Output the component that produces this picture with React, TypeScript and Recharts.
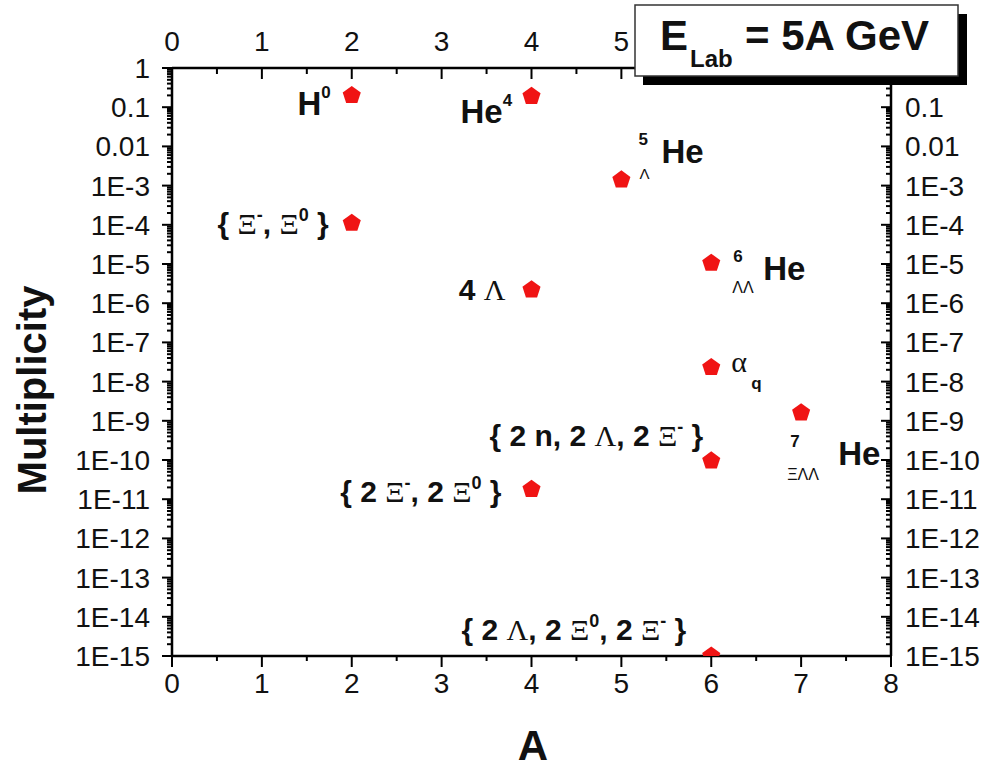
import React from 'react';
import { ScatterChart, Scatter, XAxis, YAxis } from 'recharts';

const SANS = '"Liberation Sans", Arial, Helvetica, sans-serif';
const SERIF = '"Liberation Serif", "Times New Roman", serif';
const INK = '#111';

// Mass number A of each produced object
const massNumbers = [2, 4, 5, 2, 6, 4, 6, 7, 6, 4, 6];
// Multiplicity per event at E_Lab = 5A GeV
const multiplicities = [0.2, 0.19, 1.4e-3, 1.1e-4, 1.05e-5, 2.2e-6, 2.3e-8, 1.6e-9, 9.5e-11, 1.8e-11, 1e-15];
// Which object each point stands for
const species = ['H0', 'He4', 'He5L', 'XiXi0', 'He6LL', 'L4', 'alphaQ', 'He7XiLL', 'n2L2Xi2', 'Xi2Xi02', 'L2Xi02Xi2'];

// Axis tick labels (the top and right scales lose the labels that sit under the energy box)
const xTickLabels = ['0', '1', '2', '3', '4', '5', '6', '7', '8'];
const topTickLabels = ['0', '1', '2', '3', '4', '5', '', '', ''];
const xMinorTicks = [0.5, 1.5, 2.5, 3.5, 4.5, 5.5, 6.5, 7.5];
const yTickLabels = ['1', '0.1', '0.01', '1E-3', '1E-4', '1E-5', '1E-6', '1E-7', '1E-8', '1E-9', '1E-10', '1E-11', '1E-12', '1E-13', '1E-14', '1E-15'];
const rightTickLabels = ['', '0.1', '0.01', '1E-3', '1E-4', '1E-5', '1E-6', '1E-7', '1E-8', '1E-9', '1E-10', '1E-11', '1E-12', '1E-13', '1E-14', '1E-15'];
const yMinorMultipliers = [2, 3, 4, 5, 6, 7, 8, 9];

const data = massNumbers.map((a, i) => ({ A: a, multiplicity: multiplicities[i], species: species[i] }));

const xMajorTicks = xTickLabels.map(Number);
const xTicks = [...xMajorTicks, ...xMinorTicks].sort((a, b) => a - b);
const yMajorTicks = yTickLabels.map((_, i) => Number(`1e-${i}`));
const yMinorTicks: number[] = [];
for (let e = 1; e < yTickLabels.length; e++) {
  for (const k of yMinorMultipliers) yMinorTicks.push(Number(`${k}e-${e}`));
}
const yTicks = [...yMajorTicks, ...yMinorTicks].sort((a, b) => a - b);

const isXMajor = (v: number) => Math.abs(v - Math.round(v)) < 1e-9;
const yDecade = (v: number) => Math.log10(v);
const isYMajor = (v: number) => Math.abs(yDecade(v) - Math.round(yDecade(v))) < 1e-6;
const yIndex = (v: number) => -Math.round(yDecade(v));

const TICK_FONT = 28;
const MAJOR = 10;
const MINOR = 5;
const MARK = { stroke: '#000', strokeWidth: 2, fill: 'none' };

// Tick components receive the position of the axis line itself
// (tickSize and tickMargin are zero) and draw both the mark and its label.
const LeftTick = (p: any) => {
  const x = Number(p.x);
  const y = Number(p.y);
  const v = Number(p.payload.value);
  const major = isYMajor(v);
  const len = major ? MAJOR : MINOR;
  return (
    <g>
      <path d={`M${x},${y}H${x - len}`} {...MARK} />
      {major && (
        <text x={x - 22} y={y} dy="0.36em" textAnchor="end" fontFamily={SANS} fontSize={TICK_FONT} fill={INK}>
          {yTickLabels[yIndex(v)]}
        </text>
      )}
    </g>
  );
};

const RightTick = (p: any) => {
  const x = Number(p.x);
  const y = Number(p.y);
  const v = Number(p.payload.value);
  const major = isYMajor(v);
  const len = major ? MAJOR : MINOR;
  const label = major ? rightTickLabels[yIndex(v)] : '';
  return (
    <g>
      <path d={`M${x},${y}H${x - len}`} {...MARK} />
      {label && (
        <text x={x + 14} y={y} dy="0.36em" textAnchor="start" fontFamily={SANS} fontSize={TICK_FONT} fill={INK}>
          {label}
        </text>
      )}
    </g>
  );
};

const BottomTick = (p: any) => {
  const x = Number(p.x);
  const y = Number(p.y);
  const v = Number(p.payload.value);
  const major = isXMajor(v);
  const len = major ? 11 : MINOR;
  return (
    <g>
      <path d={`M${x},${y}V${y + len}`} {...MARK} />
      {major && (
        <text x={x} y={y + 37} textAnchor="middle" fontFamily={SANS} fontSize={TICK_FONT} fill={INK}>
          {xTickLabels[Math.round(v)]}
        </text>
      )}
    </g>
  );
};

const TopTick = (p: any) => {
  const x = Number(p.x);
  const y = Number(p.y);
  const v = Number(p.payload.value);
  const major = isXMajor(v);
  const len = major ? 11 : 6;
  const label = major ? topTickLabels[Math.round(v)] : '';
  return (
    <g>
      <path d={`M${x},${y}V${y + len}`} {...MARK} />
      {label && (
        <text x={x} y={y - 17} textAnchor="middle" fontFamily={SANS} fontSize={TICK_FONT} fill={INK}>
          {label}
        </text>
      )}
    </g>
  );
};

type Seg = { t: string; greek?: boolean; sup?: boolean };

const RichText = ({ x, y, anchor, size, segs, raise = 13, supSize = 18 }: {
  x: number; y: number; anchor: 'start' | 'end' | 'middle'; size: number; segs: Seg[]; raise?: number; supSize?: number;
}) => {
  let up = false;
  return (
    <text x={x} y={y} textAnchor={anchor} fontFamily={SANS} fontWeight="bold" fontSize={size} fill={INK} style={{ whiteSpace: 'pre' }}>
      {segs.map((s, i) => {
        let dy = 0;
        if (s.sup && !up) { dy = -raise; up = true; }
        else if (!s.sup && up) { dy = raise; up = false; }
        return (
          <tspan
            key={i}
            dy={dy || undefined}
            fontSize={s.sup ? supSize : size}
            fontFamily={s.greek ? SERIF : SANS}
            fontWeight={s.greek ? 'normal' : 'bold'}
          >
            {s.t}
          </tspan>
        );
      })}
    </text>
  );
};

const Small = ({ x, y, size, bold, children }: { x: number; y: number; size: number; bold?: boolean; children: React.ReactNode }) => (
  <text x={x} y={y} fontFamily={SANS} fontWeight={bold ? 'bold' : 'normal'} fontSize={size} fill={INK}>
    {children}
  </text>
);

const pointLabel = (key: string, cx: number, cy: number) => {
  switch (key) {
    case 'H0':
      return <RichText x={cx - 21} y={cy + 20} anchor="end" size={33} raise={17} supSize={17} segs={[{ t: 'H' }, { t: '0', sup: true }]} />;
    case 'He4':
      return <RichText x={cx - 71} y={cy + 27} anchor="start" size={33} raise={17} supSize={17} segs={[{ t: 'He' }, { t: '4', sup: true }]} />;
    case 'He5L':
      return (
        <g>
          <Small x={cx + 17} y={cy - 35} size={17} bold>5</Small>
          <Small x={cx + 18} y={cy - 1} size={15}>Λ</Small>
          <Small x={cx + 40} y={cy - 17} size={33} bold>He</Small>
        </g>
      );
    case 'XiXi0':
      return (
        <RichText x={cx - 23} y={cy + 11} anchor="end" size={30}
          segs={[{ t: '{ ' }, { t: 'Ξ', greek: true }, { t: '-', sup: true }, { t: ', ' }, { t: 'Ξ', greek: true }, { t: '0', sup: true }, { t: ' }' }]} />
      );
    case 'He6LL':
      return (
        <g>
          <Small x={cx + 22} y={cy - 1} size={17} bold>6</Small>
          <Small x={cx + 21} y={cy + 30} size={16}>ΛΛ</Small>
          <Small x={cx + 52} y={cy + 17} size={33} bold>He</Small>
        </g>
      );
    case 'L4':
      return <RichText x={cx - 26} y={cy + 10} anchor="end" size={30} segs={[{ t: '4 ' }, { t: 'Λ', greek: true }]} />;
    case 'alphaQ':
      return (
        <g>
          <text x={cx + 20} y={cy + 5} fontFamily={SERIF} fontSize={30} fill={INK}>α</text>
          <Small x={cx + 40} y={cy + 22} size={17} bold>q</Small>
        </g>
      );
    case 'He7XiLL':
      return (
        <g>
          <Small x={cx - 11} y={cy + 34} size={17} bold>7</Small>
          <Small x={cx - 14} y={cy + 67} size={16}>ΞΛΛ</Small>
          <Small x={cx + 37} y={cy + 52} size={33} bold>He</Small>
        </g>
      );
    case 'n2L2Xi2':
      return (
        <RichText x={cx - 8} y={cy - 15} anchor="end" size={30}
          segs={[{ t: '{ 2 n, 2 ' }, { t: 'Λ', greek: true }, { t: ', 2 ' }, { t: 'Ξ', greek: true }, { t: '-', sup: true }, { t: ' }' }]} />
      );
    case 'Xi2Xi02':
      return (
        <RichText x={cx - 30} y={cy + 13} anchor="end" size={30}
          segs={[{ t: '{ 2 ' }, { t: 'Ξ', greek: true }, { t: '-', sup: true }, { t: ', 2 ' }, { t: 'Ξ', greek: true }, { t: '0', sup: true }, { t: ' }' }]} />
      );
    case 'L2Xi02Xi2':
      return (
        <RichText x={cx - 25} y={cy - 16} anchor="end" size={30}
          segs={[{ t: '{ 2 ' }, { t: 'Λ', greek: true }, { t: ', 2 ' }, { t: 'Ξ', greek: true }, { t: '0', sup: true }, { t: ', 2 ' }, { t: 'Ξ', greek: true }, { t: '-', sup: true }, { t: ' }' }]} />
      );
    default:
      return null;
  }
};

// Red pentagon marker with the object's name beside it
const ParticleMarker = (props: any) => {
  const { cx, cy, payload } = props;
  const r = 9.5;
  const pts = [0, 1, 2, 3, 4]
    .map((k) => {
      const a = -Math.PI / 2 + (k * 2 * Math.PI) / 5;
      return `${cx + r * Math.cos(a)},${cy + r * Math.sin(a)}`;
    })
    .join(' ');
  return (
    <g>
      <polygon points={pts} fill="#f01414" />
      {pointLabel(payload.species, cx, cy)}
    </g>
  );
};

const axisLine = { stroke: '#000', strokeWidth: 2.5 };
const abs = (left: number, top: number): React.CSSProperties => ({ position: 'absolute', left, top, pointerEvents: 'none' });

export default function App() {
  return (
    <div style={{ position: 'absolute', left: 0, top: 0, width: 1003, height: 768, background: '#fff' }}>
      <ScatterChart width={1003} height={768} margin={{ top: 18, right: 12, bottom: 52, left: 72 }}>
        <XAxis
          xAxisId="bottom" orientation="bottom" type="number" dataKey="A" domain={[0, 8]} allowDataOverflow
          ticks={xTicks} interval={0} tick={BottomTick} tickLine={false} tickSize={0} tickMargin={0}
          axisLine={axisLine} height={60}
        />
        <XAxis
          xAxisId="top" orientation="top" type="number" dataKey="A" domain={[0, 8]} allowDataOverflow
          ticks={xTicks} interval={0} tick={TopTick} tickLine={false} tickSize={0} tickMargin={0}
          axisLine={axisLine} height={50}
        />
        <YAxis
          yAxisId="left" orientation="left" type="number" dataKey="multiplicity" scale="log" domain={[1e-15, 1]} allowDataOverflow
          ticks={yTicks} interval={0} tick={LeftTick} tickLine={false} tickSize={0} tickMargin={0}
          axisLine={axisLine} width={100}
        />
        <YAxis
          yAxisId="right" orientation="right" type="number" dataKey="multiplicity" scale="log" domain={[1e-15, 1]} allowDataOverflow
          ticks={yTicks} interval={0} tick={RightTick} tickLine={false} tickSize={0} tickMargin={0}
          axisLine={axisLine} width={100}
        />
        <Scatter
          data={data} xAxisId="bottom" yAxisId="left" dataKey="multiplicity"
          shape={ParticleMarker} isAnimationActive={false}
        />
      </ScatterChart>

      {/* axis titles */}
      <svg width={70} height={290} style={abs(0, 245)}>
        <text transform="translate(46, 145) rotate(-90)" textAnchor="middle" fontFamily={SANS} fontWeight="bold" fontSize={40} fill={INK}>
          Multiplicity
        </text>
      </svg>
      <svg width={70} height={48} style={abs(498, 720)}>
        <text x={35} y={40} textAnchor="middle" fontFamily={SANS} fontWeight="bold" fontSize={42} fill={INK}>A</text>
      </svg>

      {/* beam energy box with drop shadow */}
      <svg width={345} height={90} style={abs(630, 0)}>
        <rect x={13} y={14} width={324} height={71} fill="#000" />
        <rect x={5} y={5} width={323} height={71} fill="#fff" stroke="#333" strokeWidth={1.5} />
        <text x={30} y={50} fontFamily={SANS} fontWeight="bold" fontSize={42} fill={INK}>E</text>
        <text x={60} y={67} fontFamily={SANS} fontWeight="bold" fontSize={24} fill={INK}>Lab</text>
        <text x={115} y={50} fontFamily={SANS} fontWeight="bold" fontSize={42} fill={INK} style={{ whiteSpace: 'pre' }}>= 5A GeV</text>
      </svg>
    </div>
  );
}
